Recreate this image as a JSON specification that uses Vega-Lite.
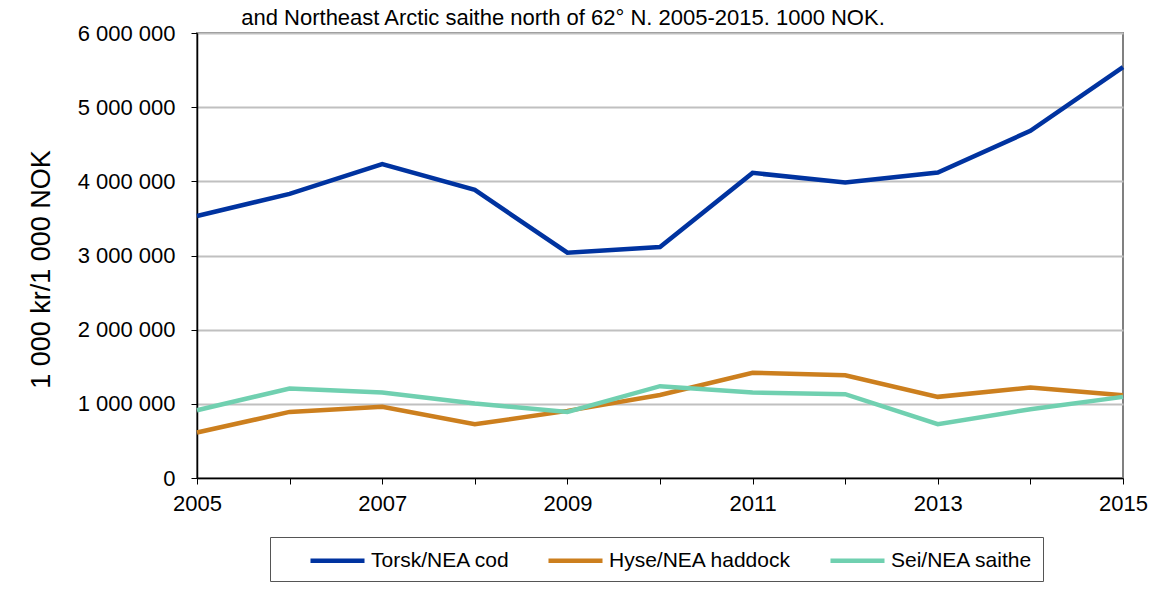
{
  "$schema": "https://vega.github.io/schema/vega-lite/v6.json",
  "autosize": {"type": "none"},
  "padding": {"left": 197, "top": 33, "right": 38, "bottom": 122},
  "width": 926,
  "height": 445,
  "background": "white",
  "title": {
    "text": "and Northeast Arctic saithe north of 62° N. 2005-2015. 1000 NOK.",
    "font": "Liberation Sans",
    "fontSize": 22,
    "fontWeight": "normal",
    "color": "black",
    "anchor": "middle",
    "offset": -8,
    "dx": -97
  },
  "config": {
    "font": "Liberation Sans",
    "view": {"stroke": "#808080", "strokeWidth": 2}
  },
  "data": {
    "values": [
      {"year": 2005, "species": "Torsk/NEA cod", "value": 3533000},
      {"year": 2006, "species": "Torsk/NEA cod", "value": 3830000},
      {"year": 2007, "species": "Torsk/NEA cod", "value": 4231000},
      {"year": 2008, "species": "Torsk/NEA cod", "value": 3884000},
      {"year": 2009, "species": "Torsk/NEA cod", "value": 3038000},
      {"year": 2010, "species": "Torsk/NEA cod", "value": 3115000},
      {"year": 2011, "species": "Torsk/NEA cod", "value": 4114000},
      {"year": 2012, "species": "Torsk/NEA cod", "value": 3983000},
      {"year": 2013, "species": "Torsk/NEA cod", "value": 4118000},
      {"year": 2014, "species": "Torsk/NEA cod", "value": 4681000},
      {"year": 2015, "species": "Torsk/NEA cod", "value": 5540000},
      {"year": 2005, "species": "Hyse/NEA haddock", "value": 613000},
      {"year": 2006, "species": "Hyse/NEA haddock", "value": 891000},
      {"year": 2007, "species": "Hyse/NEA haddock", "value": 959000},
      {"year": 2008, "species": "Hyse/NEA haddock", "value": 725000},
      {"year": 2009, "species": "Hyse/NEA haddock", "value": 905000},
      {"year": 2010, "species": "Hyse/NEA haddock", "value": 1120000},
      {"year": 2011, "species": "Hyse/NEA haddock", "value": 1418000},
      {"year": 2012, "species": "Hyse/NEA haddock", "value": 1386000},
      {"year": 2013, "species": "Hyse/NEA haddock", "value": 1094000},
      {"year": 2014, "species": "Hyse/NEA haddock", "value": 1220000},
      {"year": 2015, "species": "Hyse/NEA haddock", "value": 1116000},
      {"year": 2005, "species": "Sei/NEA saithe", "value": 914000},
      {"year": 2006, "species": "Sei/NEA saithe", "value": 1207000},
      {"year": 2007, "species": "Sei/NEA saithe", "value": 1153000},
      {"year": 2008, "species": "Sei/NEA saithe", "value": 1004000},
      {"year": 2009, "species": "Sei/NEA saithe", "value": 891000},
      {"year": 2010, "species": "Sei/NEA saithe", "value": 1238000},
      {"year": 2011, "species": "Sei/NEA saithe", "value": 1153000},
      {"year": 2012, "species": "Sei/NEA saithe", "value": 1130000},
      {"year": 2013, "species": "Sei/NEA saithe", "value": 725000},
      {"year": 2014, "species": "Sei/NEA saithe", "value": 927000},
      {"year": 2015, "species": "Sei/NEA saithe", "value": 1094000}
    ]
  },
  "mark": {"type": "line", "strokeWidth": 4.5, "strokeJoin": "miter"},
  "encoding": {
    "x": {
      "field": "year",
      "type": "quantitative",
      "scale": {"domain": [2005, 2015], "nice": false, "zero": false},
      "axis": {
        "title": null,
        "values": [2005, 2006, 2007, 2008, 2009, 2010, 2011, 2012, 2013, 2014, 2015],
        "labelExpr": "datum.value % 2 == 1 ? format(datum.value, 'd') : ''",
        "grid": false,
        "domainColor": "black",
        "domainWidth": 1.5,
        "tickColor": "black",
        "tickSize": 6,
        "labelFontSize": 22,
        "labelColor": "black",
        "labelPadding": 9,
        "labelFlush": false,
        "labelOverlap": false
      }
    },
    "y": {
      "field": "value",
      "type": "quantitative",
      "scale": {"domain": [0, 6000000], "nice": false},
      "axis": {
        "title": "1 000 kr/1 000 NOK",
        "titleFontSize": 27,
        "titleFontWeight": "normal",
        "titleColor": "black",
        "titlePadding": 22,
        "titleY": 236,
        "values": [0, 1000000, 2000000, 3000000, 4000000, 5000000, 6000000],
        "labelExpr": "replace(format(datum.value, ','), regexp(',', 'g'), ' ')",
        "grid": true,
        "gridColor": "#c0c0c0",
        "gridWidth": 2,
        "domainColor": "black",
        "domainWidth": 1.5,
        "tickColor": "black",
        "tickSize": 6,
        "labelFontSize": 22,
        "labelColor": "black",
        "labelPadding": 16
      }
    },
    "color": {
      "field": "species",
      "type": "nominal",
      "sort": ["Torsk/NEA cod", "Hyse/NEA haddock", "Sei/NEA saithe"],
      "scale": {
        "domain": ["Torsk/NEA cod", "Hyse/NEA haddock", "Sei/NEA saithe"],
        "range": ["#0033a0", "#cc7f1e", "#70d0b0"]
      },
      "legend": {
        "title": null,
        "orient": "none",
        "direction": "horizontal",
        "legendX": 73,
        "legendY": 504,
        "padding": 10,
        "symbolOffset": 44,
        "strokeColor": "#555555",
        "fillColor": "white",
        "symbolType": "M-2.5,0H2.5",
        "symbolSize": 467,
        "symbolStrokeWidth": 4.5,
        "labelFontSize": 21,
        "labelLimit": 400,
        "labelColor": "black",
        "labelOffset": 20,
        "columnPadding": 8
      }
    }
  }
}
